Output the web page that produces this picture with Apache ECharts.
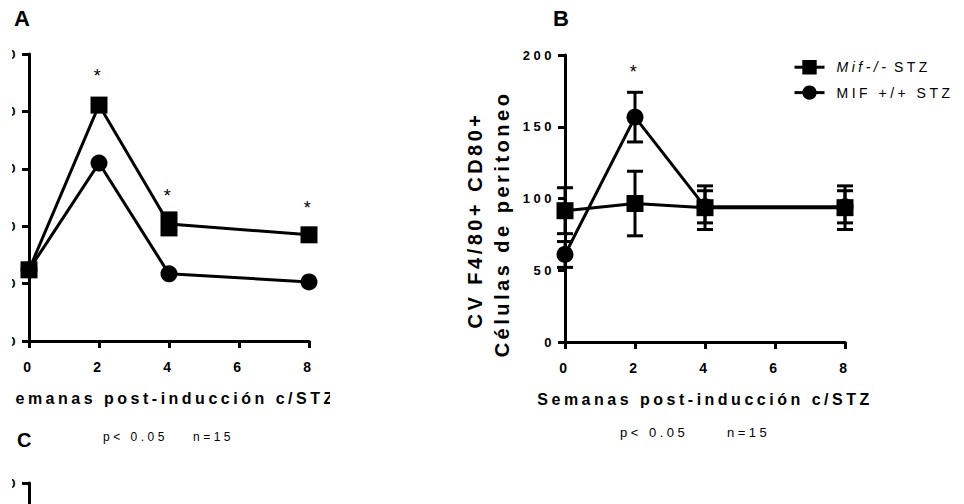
<!DOCTYPE html>
<html>
<head>
<meta charset="utf-8">
<script src="https://cdn.jsdelivr.net/npm/echarts@6/dist/echarts.min.js"></script>
<style>
  html, body { margin: 0; padding: 0; background: #fff; }
  #chart { width: 964px; height: 504px; }
  /* wide tracking used throughout the figure */
  #chart text { letter-spacing: 3.5px; }
</style>
</head>
<body>
<div id="chart"></div>
<script>
// weeks after STZ induction
const weeks = [0, 2, 4, 8];

// panel A
const mifKoA = [62, 205.5, 102, 92.5];
const mifWtA = [62, 155, 58.5, 51.5];
const starsA = [[2, 231], [4, 126], [8, 115.5]];

// panel B (mean and error)
const mifKoB = [91.5, 96.5, 93.6, 93.6];
const mifKoErrB = [16, 22.5, 15.2, 15.2];
const mifWtB = [61, 156.7, 94.2, 94.2];
const mifWtErrB = [9, 17.3, 11.2, 11.2];
const starsB = [[2, 188]];

// axis scales
const xMax = 8, xStep = 2;
const yMaxA = 250, yMaxB = 200, yMaxC = 250, yStep = 50;

// texts
const seriesNames = ['Mif-/- STZ', 'MIF +/+ STZ'];
const xTitle = 'Semanas post-inducción c/STZ';
const yTitleB = ['CV F4/80+ CD80+', 'Células de peritoneo'];
const panelLetters = ['A', 'B', 'C'];
const noteText = ['p< 0.05', 'n=15'];

const FONT = '"Liberation Sans", Arial, Helvetica, sans-serif';
const INK = '#000';

const chart = echarts.init(document.getElementById('chart'), null, { renderer: 'svg' });

function xAxisFor(gridIndex, show) {
  return {
    type: 'value', gridIndex, min: 0, max: xMax, interval: xStep, show,
    name: show ? xTitle : '', nameLocation: 'middle', nameGap: 49, nameMoveOverlap: false,
    nameTextStyle: { fontFamily: FONT, fontSize: 16, fontWeight: 'bold', color: INK },
    axisLine: { lineStyle: { color: INK, width: 3 } },
    axisTick: { length: 7, lineStyle: { color: INK, width: 3 } },
    axisLabel: { margin: 19, fontFamily: FONT, fontSize: 14, fontWeight: 'bold', color: INK },
    splitLine: { show: false }
  };
}
function yAxisFor(gridIndex, max) {
  return {
    type: 'value', gridIndex, min: 0, max, interval: yStep,
    axisLine: { show: true, lineStyle: { color: INK, width: 3 } },
    axisTick: { show: true, length: 7, lineStyle: { color: INK, width: 3 } },
    axisLabel: { margin: 10, fontFamily: FONT, fontSize: 13, fontWeight: 'bold', color: INK },
    splitLine: { show: false }
  };
}

function lineSeries(name, xi, yi, values, symbol, sizes) {
  return {
    type: 'line', name, xAxisIndex: xi, yAxisIndex: yi, z: 3,
    symbol, symbolSize: 17, showAllSymbol: true,
    lineStyle: { color: INK, width: 3 },
    itemStyle: { color: INK },
    emphasis: { disabled: true },
    animation: false,
    data: weeks.map((w, i) => {
      const d = { value: [w, values[i]] };
      if (sizes && sizes[i]) d.symbolSize = sizes[i];
      return d;
    })
  };
}

function errorSeries(xi, yi, values, errs) {
  return {
    type: 'custom', xAxisIndex: xi, yAxisIndex: yi, z: 2, silent: true,
    animation: false,
    encode: { x: 0, y: [1, 2] },
    data: weeks.map((w, i) => [w, values[i] - errs[i], values[i] + errs[i]]),
    renderItem(params, api) {
      const x = api.value(0);
      const lo = api.coord([x, api.value(1)]);
      const hi = api.coord([x, api.value(2)]);
      const half = 8;
      const st = { stroke: INK, lineWidth: 3 };
      return {
        type: 'group',
        children: [
          { type: 'line', shape: { x1: lo[0], y1: lo[1], x2: hi[0], y2: hi[1] }, style: st },
          { type: 'line', shape: { x1: hi[0] - half, y1: hi[1], x2: hi[0] + half, y2: hi[1] }, style: st },
          { type: 'line', shape: { x1: lo[0] - half, y1: lo[1], x2: lo[0] + half, y2: lo[1] }, style: st }
        ]
      };
    }
  };
}

function starSeries(xi, yi, pts) {
  return {
    type: 'custom', xAxisIndex: xi, yAxisIndex: yi, z: 4, silent: true,
    animation: false,
    data: pts,
    renderItem(params, api) {
      const p = api.coord([api.value(0), api.value(1)]);
      return {
        type: 'text', x: p[0], y: p[1],
        style: { text: '*', fill: INK, font: '18px ' + FONT, textAlign: 'center', textVerticalAlign: 'middle' }
      };
    }
  };
}

const option = {
  backgroundColor: '#fff',
  animation: false,
  grid: [
    { left: 29, top: 54, width: 280, height: 287, outerBoundsMode: 'none' },
    { left: 565, top: 55, width: 280, height: 287, outerBoundsMode: 'none' },
    { left: 29, top: 483, width: 280, height: 287, outerBoundsMode: 'none' }
  ],
  xAxis: [xAxisFor(0, true), xAxisFor(1, true), xAxisFor(2, false)],
  yAxis: [yAxisFor(0, yMaxA), yAxisFor(1, yMaxB), yAxisFor(2, yMaxC)],
  legend: {
    orient: 'vertical', left: 788, top: 55,
    itemWidth: 30, itemHeight: 18, itemGap: 11,
    selectedMode: false,
    data: seriesNames,
    lineStyle: { width: 3 },
    textStyle: {
      fontFamily: FONT, fontSize: 14, color: INK, padding: [0, 0, 0, 7],
      rich: { i: { fontFamily: FONT, fontSize: 14, fontStyle: 'italic', color: INK, width: 50 } }
    },
    formatter(name) {
      if (name === seriesNames[0]) {
        const parts = name.split(' ');
        return '{i|' + parts[0] + '} ' + parts.slice(1).join(' ');
      }
      return name;
    }
  },
  series: [
    lineSeries(seriesNames[1], 0, 0, mifWtA, 'circle'),
    lineSeries(seriesNames[0], 0, 0, mifKoA, 'rect', [null, null, [17, 25], null]),
    starSeries(0, 0, starsA),
    errorSeries(1, 1, mifWtB, mifWtErrB),
    errorSeries(1, 1, mifKoB, mifKoErrB),
    lineSeries(seriesNames[1], 1, 1, mifWtB, 'circle'),
    lineSeries(seriesNames[0], 1, 1, mifKoB, 'rect'),
    starSeries(1, 1, starsB)
  ],
  graphic: [
    // panel letters
    { type: 'text', x: 14, y: 18.5, z: 10, style: { text: panelLetters[0], fill: INK, font: 'bold 22px ' + FONT, textAlign: 'left', textVerticalAlign: 'middle' } },
    { type: 'text', x: 553, y: 18.5, z: 10, style: { text: panelLetters[1], fill: INK, font: 'bold 22px ' + FONT, textAlign: 'left', textVerticalAlign: 'middle' } },
    { type: 'text', x: 17, y: 440, z: 10, style: { text: panelLetters[2], fill: INK, font: 'bold 20px ' + FONT, textAlign: 'left', textVerticalAlign: 'middle' } },
    // y title of panel B
    { type: 'text', x: 475, y: 220, rotation: Math.PI / 2, z: 10, style: { text: yTitleB[0], fill: INK, font: 'bold 20px ' + FONT, textAlign: 'center', textVerticalAlign: 'middle' } },
    { type: 'text', x: 502, y: 224, rotation: Math.PI / 2, z: 10, style: { text: yTitleB[1], fill: INK, font: 'bold 20px ' + FONT, textAlign: 'center', textVerticalAlign: 'middle' } },
    // significance notes
    { type: 'text', x: 103, y: 437, z: 10, style: { text: noteText[0], fill: INK, font: '12px ' + FONT, textAlign: 'left', textVerticalAlign: 'middle' } },
    { type: 'text', x: 193, y: 437, z: 10, style: { text: noteText[1], fill: INK, font: '12px ' + FONT, textAlign: 'left', textVerticalAlign: 'middle' } },
    { type: 'text', x: 620, y: 432, z: 10, style: { text: noteText[0], fill: INK, font: '13px ' + FONT, textAlign: 'left', textVerticalAlign: 'middle' } },
    { type: 'text', x: 727, y: 432, z: 10, style: { text: noteText[1], fill: INK, font: '13px ' + FONT, textAlign: 'left', textVerticalAlign: 'middle' } },
    // trimmed edges of the figure
    { type: 'rect', z: 20, shape: { x: 0, y: 40, width: 12, height: 464 }, style: { fill: '#fff' } },
    { type: 'rect', z: 20, shape: { x: 330, y: 380, width: 130, height: 40 }, style: { fill: '#fff' } }
  ]
};

chart.setOption(option);
</script>
</body>
</html>
